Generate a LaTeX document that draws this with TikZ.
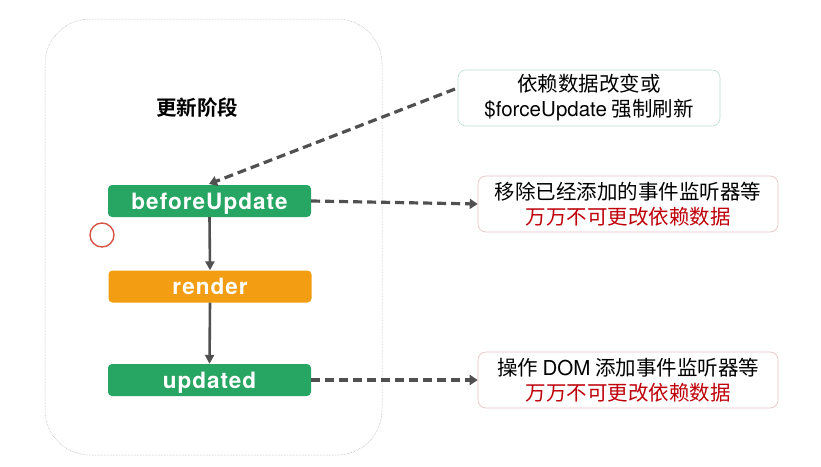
\documentclass[tikz,border=0pt]{standalone}
\usepackage{fontspec}
\setmainfont{TeX Gyre Heros}
\newfontfamily\hookfont[LetterSpace=4.5]{TeX Gyre Heros}
\newfontfamily\cjk{Noto Sans CJK SC}
\newfontfamily\cjkb{Noto Sans CJK SC Bold}
\usetikzlibrary{arrows.meta}
\definecolor{hookgreen}{RGB}{38,166,98}
\definecolor{hookorange}{RGB}{243,157,18}
\definecolor{linegray}{RGB}{80,80,80}
\definecolor{tealborder}{RGB}{185,222,212}
\definecolor{pinkborder}{RGB}{235,190,195}
\definecolor{warnred}{RGB}{190,0,10}
\definecolor{circred}{RGB}{215,85,70}
\begin{document}
\begin{tikzpicture}[x=1pt,y=-1pt,
  hook/.style={rounded corners=4pt,minimum width=203pt,minimum height=32pt,inner sep=0pt,text height=19pt,text depth=3pt,text=white,font=\hookfont\bfseries\fontsize{22.5}{24}\selectfont},
  note/.style={draw,rounded corners=8pt,line width=0.6pt,inner sep=0pt,align=center,font=\cjk\fontsize{20.5}{25}\selectfont},
  solidarrow/.style={draw=linegray,line width=2.6pt,-{Triangle[length=9pt,width=9pt]}},
  dasharrow/.style={draw=linegray,line width=3.2pt,dash pattern=on 9pt off 5pt,-{Triangle[length=8pt,width=10pt]}}]
\useasboundingbox (0,0) rectangle (821,466);
\fill[white] (0,0) rectangle (821,466);
\node[draw=gray!70,densely dotted,line width=0.5pt,rounded corners=45pt,minimum width=337pt,minimum height=436pt,inner sep=0pt] (stage) at (213.5,237) {};
\node[font=\cjkb\fontsize{20.5}{22}\selectfont] (title) at (197,108) {更新阶段};
\node[hook,fill=hookgreen] (bu) at (209.5,201) {beforeUpdate};
\node[hook,fill=hookorange] (rd) at (210,286.5) {render};
\node[hook,fill=hookgreen] (ud) at (209.5,380) {updated};
\node[note,draw=tealborder,minimum width=262pt,minimum height=56pt] (n1) at (589,98) {依赖数据改变或\\{\fontspec{TeX Gyre Heros}\$forceUpdate} 强制刷新};
\node[note,draw=pinkborder,minimum width=300pt,minimum height=56pt] (n2) at (628,204) {移除已经添加的事件监听器等\\\textcolor{warnred}{万万不可更改依赖数据}};
\node[note,draw=pinkborder,minimum width=300pt,minimum height=56pt] (n3) at (628,380) {操作 {\fontspec{TeX Gyre Heros}DOM} 添加事件监听器等\\\textcolor{warnred}{万万不可更改依赖数据}};
\draw[circred,line width=1.4pt] (102,235) circle (12pt);
\coordinate (n1s) at (455,89);
\coordinate (bt) at (209,184);
\draw[solidarrow] (bu.south) -- (rd.north);
\draw[solidarrow] (rd.south) -- (ud.north);
\draw[dasharrow] (n1s) -- (bt);
\draw[dasharrow] (bu.east) -- (n2.west);
\draw[dasharrow] (ud.east) -- (n3.west);
\end{tikzpicture}
\end{document}
